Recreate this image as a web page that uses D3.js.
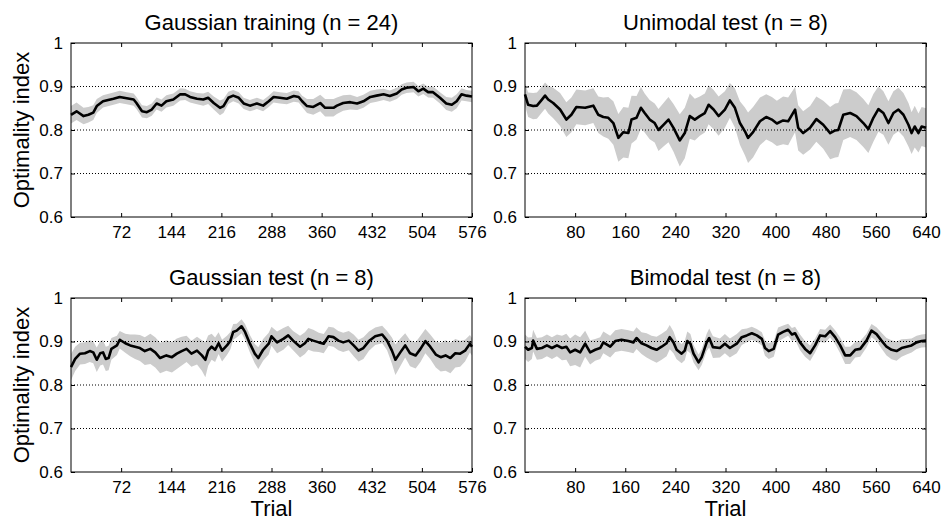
<!DOCTYPE html>
<html>
<head>
<meta charset="utf-8">
<script src="https://d3js.org/d3.v7.min.js"></script>
<style>
  html, body { margin: 0; padding: 0; background: #fff; }
  svg { display: block; font-family: "Liberation Sans", Arial, sans-serif; }
</style>
</head>
<body>
<div id="chart"></div>
<script>
// ---- data ----
const yTicks = [0.6, 0.7, 0.8, 0.9, 1];
const yTickLabels = ["0.6", "0.7", "0.8", "0.9", "1"];
const gridValues = [0.7, 0.8, 0.9];
const ticks576 = [72, 144, 216, 288, 360, 432, 504, 576];
const ticks640 = [80, 160, 240, 320, 400, 480, 560, 640];

// Gaussian training (n = 24)
const trainTrials = [0,8,18,25,32,37,46,61,70,80,90,94,102,109,116,123,130,137,147,157,164,171,181,190,197,205,214,219,226,233,241,248,257,267,276,284,291,300,310,320,327,332,339,348,358,365,377,382,391,401,411,420,430,439,449,458,468,475,482,492,499,506,513,520,530,539,547,554,561,568,576];
const trainMean = [.835,.843,.832,.835,.840,.855,.866,.872,.876,.873,
  .870,.862,.843,.841,.847,.861,.856,.866,.870,.882,
  .882,.876,.872,.870,.874,.862,.851,.855,.874,.879,
  .874,.861,.856,.861,.856,.866,.876,.874,.872,.878,
  .876,.866,.855,.853,.862,.851,.851,.856,.862,.864,
  .861,.866,.876,.879,.882,.878,.884,.893,.897,.899,
  .889,.895,.887,.887,.874,.861,.858,.866,.882,.879,.877];
const trainErr = [.020,.020,.019,.018,.017,.016,
  .014,.014,.014,.014,.014,.014,.014,.014,.014,.014,.014,.014,.014,.014,
  .013,.013,.013,.014,.014,.015,
  .017,.016,.014,.013,
  .013,.013,.013,.013,.013,.013,.013,.013,.013,.013,.013,.013,
  .016,.018,.019,.020,.020,.019,.018,.017,
  .015,.015,.014,.014,.013,.013,.013,.012,
  .012,.012,.012,.012,.012,.013,.013,.015,.016,.016,.014,.013,.013];

// Unimodal test (n = 8)
const uniTrials = [0,5,13,19,27,32,37,45,56,66,74,82,96,109,117,125,133,141,149,157,165,170,178,185,191,199,207,213,221,229,237,247,255,263,271,279,287,293,301,309,319,327,335,343,351,356,364,375,385,394,402,412,420,431,436,444,455,465,476,487,495,500,508,519,529,540,548,556,564,572,580,588,596,604,612,617,622,628,633,640];
const uniMean = [.882,.858,.855,.856,.870,.879,.870,.862,.847,.824,
  .835,.853,.851,.856,.835,.830,.828,.816,.782,.795,
  .793,.824,.828,.851,.839,.824,.816,.800,.812,.824,
  .805,.776,.793,.832,.824,.832,.839,.858,.847,.832,
  .847,.868,.851,.816,.797,.782,.795,.820,.830,.824,
  .815,.822,.820,.847,.805,.793,.805,.825,.812,.793,
  .799,.800,.835,.839,.832,.816,.802,.828,.848,.839,
  .816,.839,.847,.835,.812,.793,.808,.793,.808,.805];
const uniErr = [.025,.028,.030,.030,.030,.030,.032,.035,.038,.040,
  .040,.040,.040,.040,.042,.045,.048,.050,.055,.058,
  .058,.055,.050,.048,.045,.045,.045,.048,.050,.052,
  .055,.060,.058,.052,.048,.045,.045,.045,.045,.045,
  .042,.040,.045,.050,.055,.058,.058,.055,.052,.052,
  .052,.055,.055,.052,.052,.050,.050,.052,.055,.060,
  .062,.062,.058,.055,.055,.055,.055,.055,.052,.050,
  .050,.050,.050,.050,.050,.048,.048,.045,.045,.045];

// Gaussian test (n = 8)
const gaussTrials = [0,6,13,20,27,32,37,42,46,50,54,58,66,70,78,85,92,99,106,114,121,128,137,145,152,159,166,173,181,188,193,197,202,207,212,217,224,229,233,238,245,250,257,264,269,276,284,288,296,305,312,319,329,336,341,348,356,363,370,377,384,391,399,406,413,420,428,437,447,454,461,466,473,480,487,495,502,509,516,524,531,538,545,552,559,566,573,576];
const gaussMean = [.841,.860,.872,.873,.878,.875,.858,.873,.875,.860,
  .862,.883,.891,.904,.896,.891,.888,.885,.878,.883,
  .875,.862,.868,.864,.872,.878,.883,.872,.879,.868,
  .858,.879,.888,.881,.896,.879,.891,.902,.922,.925,
  .935,.922,.895,.872,.862,.881,.895,.912,.898,.906,
  .914,.902,.888,.896,.906,.902,.898,.895,.912,.910,
  .902,.898,.902,.891,.879,.885,.901,.912,.916,.902,
  .879,.858,.875,.891,.873,.868,.883,.901,.888,.870,
  .864,.868,.862,.873,.872,.879,.895,.888];
const gaussErr = [.030,.028,.025,.025,.025,.025,.028,.028,.028,.028,
  .028,.025,.022,.020,.022,.025,.028,.030,.032,.035,
  .035,.035,.035,.035,.035,.033,.030,.030,.032,.035,
  .040,.035,.030,.028,.025,.025,.022,.020,.018,.016,
  .016,.018,.020,.022,.025,.025,.025,.022,.025,.025,
  .022,.022,.025,.025,.025,.025,.022,.022,.022,.022,
  .022,.022,.022,.025,.025,.025,.022,.020,.020,.022,
  .030,.035,.032,.028,.030,.030,.030,.028,.028,.030,
  .033,.035,.035,.033,.030,.025,.020,.020];

// Bimodal test (n = 8)
const bimTrials = [0,5,11,13,19,27,35,43,51,59,66,72,80,88,96,104,112,120,125,136,144,154,165,173,178,186,194,202,210,218,226,231,237,242,250,255,259,264,269,277,282,290,294,300,311,319,327,338,346,354,362,370,378,383,389,397,404,412,420,426,431,439,447,455,463,471,479,487,495,503,511,519,527,535,545,553,561,569,577,585,593,601,609,617,625,633,640];
const bimMean = [.888,.881,.885,.902,.883,.885,.891,.885,.891,.885,
  .888,.875,.881,.875,.895,.875,.881,.885,.898,.888,
  .901,.904,.901,.898,.908,.896,.891,.885,.881,.888,
  .896,.910,.898,.881,.872,.879,.901,.895,.872,.852,
  .864,.898,.908,.887,.885,.895,.885,.895,.910,.914,
  .919,.914,.906,.885,.878,.883,.916,.922,.927,.916,
  .919,.898,.883,.873,.891,.914,.912,.924,.910,.891,
  .868,.868,.881,.883,.902,.925,.917,.902,.888,.881,
  .878,.885,.888,.891,.898,.901,.902];
const bimErr = [.028,.028,.025,.025,.025,.025,.025,.025,.025,.028,
  .030,.032,.035,.035,.030,.028,.025,.025,.025,.025,
  .025,.025,.025,.025,.025,.025,.028,.028,.030,.030,
  .030,.028,.025,.022,.022,.022,.022,.022,.020,.018,
  .018,.020,.022,.025,.022,.022,.022,.022,.018,.016,
  .015,.015,.015,.018,.018,.018,.016,.015,.014,.015,
  .015,.018,.018,.018,.016,.015,.015,.015,.016,.018,
  .020,.020,.018,.018,.016,.015,.016,.018,.020,.022,
  .022,.020,.018,.016,.015,.015,.015];

const panels = [
  { title: "Gaussian training (n = 24)", trials: trainTrials, mean: trainMean, err: trainErr, xMax: 576, xTicks: ticks576, left: 71, top: 43, ylabel: true, xlabel: false },
  { title: "Unimodal test (n = 8)", trials: uniTrials, mean: uniMean, err: uniErr, xMax: 640, xTicks: ticks640, left: 525, top: 43, ylabel: false, xlabel: false },
  { title: "Gaussian test (n = 8)", trials: gaussTrials, mean: gaussMean, err: gaussErr, xMax: 576, xTicks: ticks576, left: 71, top: 298, ylabel: true, xlabel: true },
  { title: "Bimodal test (n = 8)", trials: bimTrials, mean: bimMean, err: bimErr, xMax: 640, xTicks: ticks640, left: 525, top: 298, ylabel: false, xlabel: true }
];

const W = 944, H = 522;
const PW = 401, PH = 174;
const TICK = 4;

const svg = d3.select("#chart").append("svg")
  .attr("width", W).attr("height", H);

panels.forEach(p => {
  const g = svg.append("g").attr("transform", `translate(${p.left},${p.top})`);

  const x = d3.scaleLinear().domain([0, p.xMax]).range([0, PW]);
  const y = d3.scaleLinear().domain([0.6, 1]).range([PH, 0]);

  const pts = p.trials.map((t, i) => ({ t: t, m: p.mean[i], e: p.err[i] }));

  // shaded band
  const area = d3.area()
    .x(d => x(d.t))
    .y0(d => y(d.m - d.e))
    .y1(d => y(d.m + d.e));
  g.append("path").datum(pts)
    .attr("fill", "#cccccc")
    .attr("d", area);

  // dotted grid
  g.selectAll(".grid").data(gridValues).enter().append("line")
    .attr("x1", 0).attr("x2", PW)
    .attr("y1", d => y(d)).attr("y2", d => y(d))
    .attr("stroke", "#000").attr("stroke-width", 1)
    .attr("stroke-dasharray", "1,2");

  // mean line
  const line = d3.line().x(d => x(d.t)).y(d => y(d.m));
  g.append("path").datum(pts)
    .attr("fill", "none")
    .attr("stroke", "#000")
    .attr("stroke-width", 2.6)
    .attr("stroke-linejoin", "round")
    .attr("d", line);

  // axes (inward ticks, labels only on bottom/left)
  const bottom = g.append("g").attr("transform", `translate(0,${PH})`)
    .call(d3.axisBottom(x).tickValues(p.xTicks).tickSizeInner(-TICK).tickSizeOuter(0).tickPadding(TICK + 5));
  const top = g.append("g")
    .call(d3.axisTop(x).tickValues(p.xTicks).tickSizeInner(-TICK).tickSizeOuter(0).tickFormat(""));
  const leftAx = g.append("g")
    .call(d3.axisLeft(y).tickValues(yTicks).tickSizeInner(-TICK).tickSizeOuter(0).tickPadding(TICK + 4)
      .tickFormat((d, i) => yTickLabels[i]));
  const rightAx = g.append("g").attr("transform", `translate(${PW},0)`)
    .call(d3.axisRight(y).tickValues(yTicks).tickSizeInner(-TICK).tickSizeOuter(0).tickFormat(""));

  [bottom, top, leftAx, rightAx].forEach(a => {
    a.select(".domain").remove();
    a.selectAll("line").attr("stroke", "#000");
    a.selectAll("text").attr("fill", "#000").style("font-size", "17px")
      .style("font-family", '"Liberation Sans", Arial, sans-serif');
  });

  // box
  g.append("rect")
    .attr("x", 0).attr("y", 0).attr("width", PW).attr("height", PH)
    .attr("fill", "none").attr("stroke", "#000").attr("stroke-width", 1);

  // title
  g.append("text")
    .attr("x", PW / 2).attr("y", -13)
    .attr("text-anchor", "middle")
    .style("font-size", "22px")
    .text(p.title);

  if (p.ylabel) {
    g.append("text")
      .attr("transform", `translate(${29 - p.left},${PH / 2}) rotate(-90)`)
      .attr("text-anchor", "middle")
      .style("font-size", "22px")
      .text("Optimality index");
  }
  if (p.xlabel) {
    g.append("text")
      .attr("x", PW / 2).attr("y", PH + 44)
      .attr("text-anchor", "middle")
      .style("font-size", "22px")
      .text("Trial");
  }
});
</script>
</body>
</html>
